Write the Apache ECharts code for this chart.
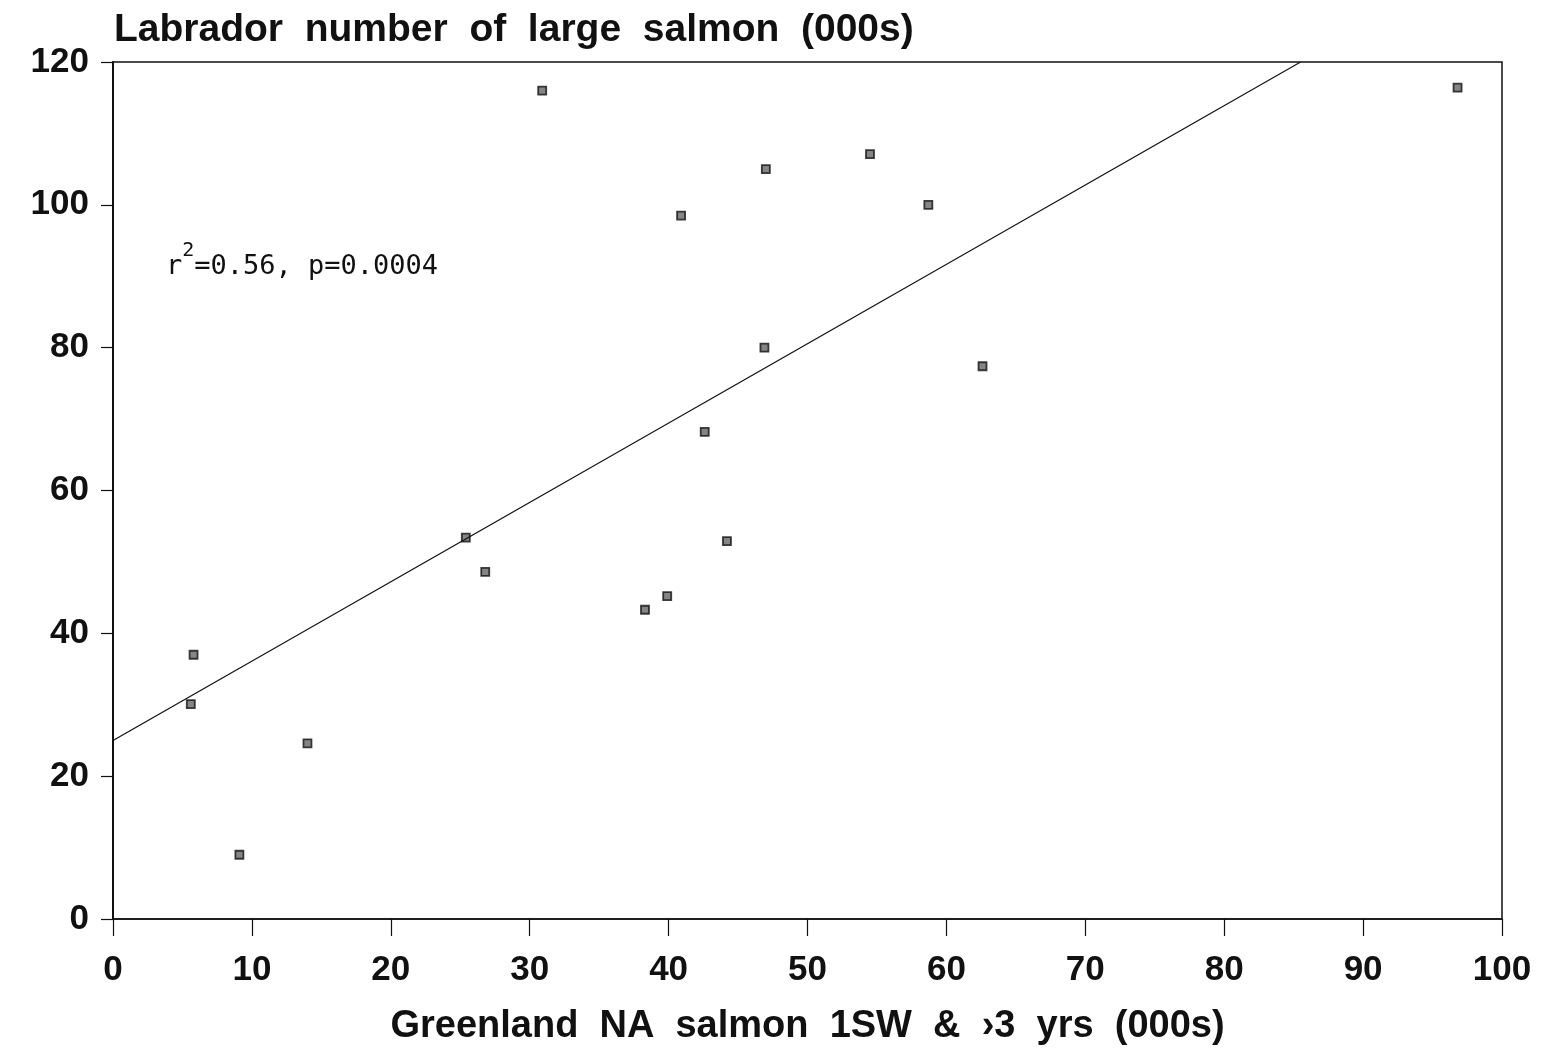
<!DOCTYPE html>
<html>
<head>
<meta charset="utf-8">
<script src="https://cdn.jsdelivr.net/npm/echarts@6/dist/echarts.min.js"></script>
<style>
    html, body { margin: 0; padding: 0; background: #fff; }
    #main__scatter { width: 1549px; height: 1049px; }
</style>
</head>
<body>
<div id="main__scatter"></div>
<script>
// Greenland NA salmon (x) vs Labrador large salmon (y), thousands
const GREENLAND = [5.8, 5.6, 9.1, 14.0, 25.4, 26.8, 30.9, 38.3, 39.9, 40.9, 42.6, 44.2, 47.0, 46.9, 54.5, 58.7, 62.6, 96.8];
const LABRADOR = [37.0, 30.1, 9.0, 24.6, 53.4, 48.6, 116.0, 43.3, 45.2, 98.5, 68.2, 52.9, 105.0, 80.0, 107.1, 100.0, 77.4, 116.4];

// regression line end points
const FIT_X = [0, 85.5];
const FIT_Y = [25.0, 120.0];

// double spaces: the original lettering is widely spaced
const TITLE = 'Labrador  number  of  large  salmon  (000s)';
const X_NAME = 'Greenland  NA  salmon  1SW  &  \u203A3  yrs  (000s)';

const boldFont = '"Liberation Sans", Arial, sans-serif';

function initScatter() {
    let chartDom = document.getElementById('main__scatter');
    let myChart = echarts.init(chartDom);
    let option;

    let points = GREENLAND.map((x, i) => [x, LABRADOR[i]]);
    let fit = FIT_X.map((x, i) => [x, FIT_Y[i]]);

    option = {
        animation: false,
        backgroundColor: '#fff',
        title: {
            text: TITLE,
            left: 109,
            top: 6,
            textStyle: {
                fontFamily: boldFont,
                fontWeight: 'bold',
                fontSize: 39,
                color: '#111',
            },
        },
        grid: {
            left: 113,
            right: 47,
            top: 62,
            bottom: 130,
            outerBoundsMode: 'none',
            show: true,
            borderColor: '#111',
            borderWidth: 1.5,
        },
        xAxis: {
            type: 'value',
            min: 0,
            max: 100,
            interval: 10,
            name: X_NAME,
            nameLocation: 'middle',
            nameGap: 89,
            nameTextStyle: {
                fontFamily: boldFont,
                fontWeight: 'bold',
                fontSize: 38,
                color: '#111',
            },
            splitLine: { show: false },
            axisLine: { lineStyle: { color: '#111', width: 1.5 } },
            axisTick: { length: 17, lineStyle: { color: '#111', width: 1.2 } },
            axisLabel: {
                margin: 34,
                fontFamily: boldFont,
                fontWeight: 'bold',
                fontSize: 35,
                color: '#111',
            },
        },
        yAxis: {
            type: 'value',
            min: 0,
            max: 120,
            interval: 20,
            splitLine: { show: false },
            axisLine: { lineStyle: { color: '#111', width: 2 } },
            axisTick: { length: 12, lineStyle: { color: '#111', width: 1.2 } },
            axisLabel: {
                margin: 24,
                fontFamily: boldFont,
                fontWeight: 'bold',
                fontSize: 35,
                color: '#111',
            },
        },
        graphic: [
            {
                type: 'text',
                left: 166,
                top: 241,
                style: {
                    text: '{n|r}{s|2}{n|=0.56, p=0.0004}',
                    rich: {
                        n: {
                            fontFamily: '"DejaVu Sans Mono", monospace',
                            fontSize: 27,
                            fill: '#111',
                            verticalAlign: 'bottom',
                            padding: [12, 0, 0, 0],
                        },
                        s: {
                            fontFamily: '"DejaVu Sans Mono", monospace',
                            fontSize: 20,
                            fill: '#111',
                            verticalAlign: 'top',
                            padding: [0, 0, 12, 0],
                        },
                    },
                },
            },
        ],
        series: [
            {
                type: 'line',
                data: fit,
                symbol: 'none',
                silent: true,
                lineStyle: { color: '#111', width: 1.2 },
            },
            {
                type: 'scatter',
                data: points,
                symbol: 'rect',
                symbolSize: 8,
                itemStyle: {
                    color: '#666',
                    borderColor: '#111',
                    borderWidth: 1.8,
                },
            },
        ],
    };

    option && myChart.setOption(option);
}

initScatter();
</script>
</body>
</html>
